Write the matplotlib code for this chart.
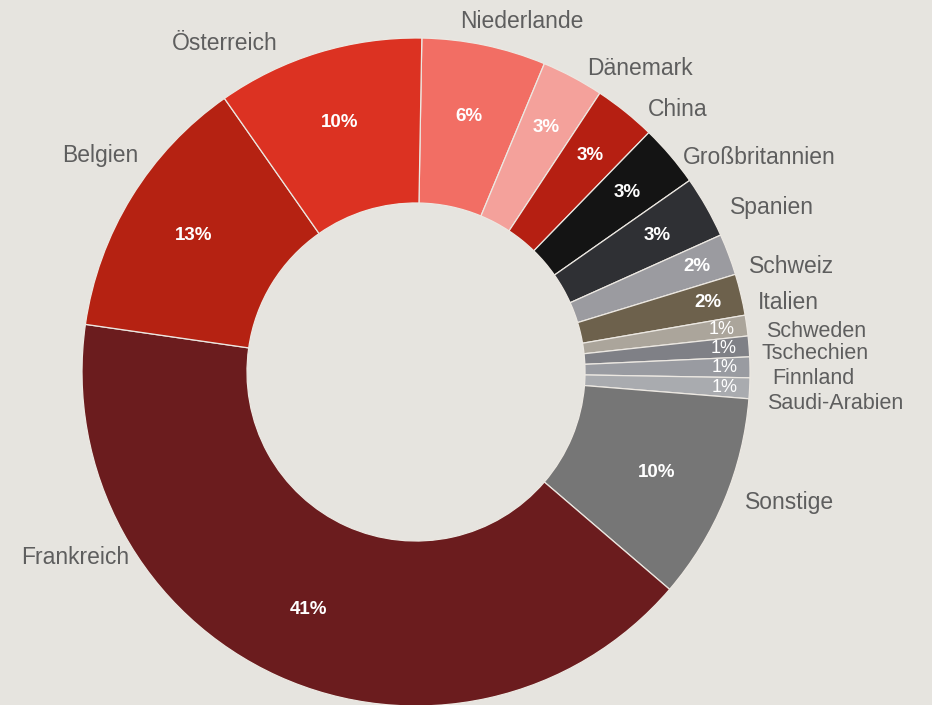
import numpy as np
import matplotlib.pyplot as plt

plt.rcParams['font.family'] = ['Liberation Sans', 'DejaVu Sans']

# Anteile in Prozent, im Uhrzeigersinn ab 12 Uhr
laender = ['Niederlande', 'Dänemark', 'China', 'Großbritannien', 'Spanien',
           'Schweiz', 'Italien', 'Schweden', 'Tschechien', 'Finnland',
           'Saudi-Arabien', 'Sonstige', 'Frankreich', 'Belgien', 'Österreich']
anteile = [6, 3, 3, 3, 3, 2, 2, 1, 1, 1, 1, 10, 41, 13, 10]
farben = ['#f26e64', '#f4a19b', '#b51f12', '#141414', '#2f3034',
          '#9b9ba0', '#6d614c', '#aba59b', '#7f8086', '#999ba1',
          '#a9abaf', '#767676', '#6b1c1e', '#b52212', '#dc3222']

# Lage der Beschriftungen (Pixel im Bild) und Ausrichtung
label_pos = [(522, 22, 'center'), (587, 69, 'left'), (648, 110, 'left'),
             (683, 158, 'left'), (730, 208, 'left'), (749, 267, 'left'),
             (758, 303, 'left'), (766, 332, 'left'), (762, 354, 'left'),
             (772, 379, 'left'), (767, 404, 'left'), (745, 502, 'left'),
             (129, 557, 'right'), (138, 156, 'right'), (278, 44, 'right')]

W, H = 932, 705
CX, CY, R = 416, 372, 334
BG = '#e6e4df'


def px(x, y):
    return (x - CX) / R, (CY - y) / R


fig = plt.figure(figsize=(W / 100, H / 100), dpi=100, facecolor=BG)
ax = fig.add_axes([0, 0, 1, 1])
ax.set_facecolor(BG)

wedges, _ = ax.pie(anteile, colors=farben, startangle=89, counterclock=False,
                   radius=1, wedgeprops=dict(width=165 / R, edgecolor='#ece8e2',
                                             linewidth=0.9))

# Prozentwerte in den Segmenten
for w, v in zip(wedges, anteile):
    mid = np.deg2rad((w.theta1 + w.theta2) / 2)
    if v >= 6:
        r = 0.78
    elif v == 3:
        r = 0.83
    elif v == 2:
        r = 0.90
    else:
        r = 0.925
    ax.text(r * np.cos(mid), r * np.sin(mid), f'{v}%', color='white',
            fontsize=13.5 if v > 1 else 13,
            fontweight='bold' if v > 1 else 'normal',
            ha='center', va='center')

for name, v, (x, y, ha) in zip(laender, anteile, label_pos):
    tx, ty = px(x, y)
    ax.text(tx, ty, name, fontsize=16.5 if v > 1 else 15.5, color='#5e5e5e',
            ha=ha, va='center')

ax.set_xlim(-CX / R, (W - CX) / R)
ax.set_ylim(-(H - CY) / R, CY / R)
ax.set_aspect('auto')
ax.axis('off')

plt.savefig('out.png', dpi=100, facecolor=BG)
